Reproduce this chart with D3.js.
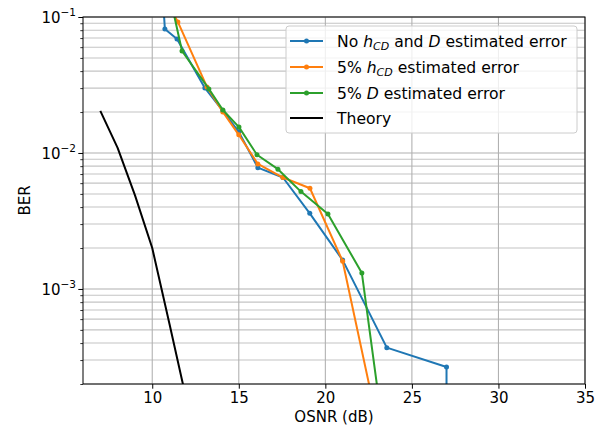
<!DOCTYPE html>
<html><head><meta charset="utf-8">
<script src="https://cdn.jsdelivr.net/npm/d3@7"></script>
<style>body{margin:0;background:#fff}text{font-family:"DejaVu Sans",sans-serif;fill:#000}</style>
</head><body><svg id="c" width="611" height="430"></svg>
<script>
// Data (OSNR in dB, BER)
const blueX  = [10.6, 10.73, 11.43, 13.04, 14.08, 15.0, 16.1, 17.55, 19.1, 21.0, 23.55, 27.0, 27.0];
const blueY  = [0.15, 0.0816, 0.0689, 0.0301, 0.0204, 0.0143, 0.0078, 0.0066, 0.0036, 0.00163, 0.00037, 0.000267, 1e-7];
const orangeX = [10.8, 11.48, 13.16, 14.08, 15.0, 16.1, 17.55, 19.11, 21.0, 23.0];
const orangeY = [0.133, 0.092, 0.0306, 0.0200, 0.0136, 0.0083, 0.0066, 0.0055, 0.00160, 0.000104];
const greenX = [10.8, 11.72, 13.27, 14.08, 15.01, 16.05, 17.26, 18.59, 20.15, 22.11, 23.2];
const greenY = [0.19, 0.0562, 0.0296, 0.0207, 0.0155, 0.0097, 0.0076, 0.0052, 0.00356, 0.00131, 0.000122];
const theoryX = [7, 8, 9, 10, 11, 12];
const theoryY = [0.0204, 0.0109, 0.0049, 0.0020, 0.00055, 0.000148];
const xTicks = [10, 15, 20, 25, 30, 35];
const yTicks = [1e-1, 1e-2, 1e-3];
const yTickExp = ["−1", "−2", "−3"];

const FS = "15px";
const svg = d3.select("#c");
const L = 83, R = 585, T = 17, B = 384;
const x = d3.scaleLinear().domain([6, 35]).range([L, R]);
const y = d3.scaleLog().domain([2e-4, 1e-1]).range([B, T]);

svg.append("rect").attr("width", 611).attr("height", 430).attr("fill", "#fff");

// minor y values
const minorY = [];
for (let e = -4; e <= -2; e++) for (let m = 2; m <= 9; m++) {
  const v = m * Math.pow(10, e);
  if (v >= 2e-4 && v <= 1e-1) minorY.push(v);
}
const grid = svg.append("g");
grid.selectAll(".gm").data(minorY).join("line")
  .attr("x1", L).attr("x2", R).attr("y1", d => y(d)).attr("y2", d => y(d))
  .attr("stroke", "#c4c4c4").attr("stroke-width", 1.07);
grid.selectAll(".gy").data(yTicks).join("line")
  .attr("x1", L).attr("x2", R).attr("y1", d => y(d)).attr("y2", d => y(d))
  .attr("stroke", "#b0b0b0").attr("stroke-width", 1.07);
grid.selectAll(".gx").data(xTicks).join("line")
  .attr("x1", d => x(d)).attr("x2", d => x(d)).attr("y1", T).attr("y2", B)
  .attr("stroke", "#b0b0b0").attr("stroke-width", 1.07);

// clip
svg.append("clipPath").attr("id", "clip").append("rect")
  .attr("x", L).attr("y", T).attr("width", R - L).attr("height", B - T);
const plot = svg.append("g").attr("clip-path", "url(#clip)");

const line = d3.line().x(d => x(d[0])).y(d => y(d[1]));
const series = [
  {xs: blueX, ys: blueY, color: "#1f77b4", marker: true},
  {xs: orangeX, ys: orangeY, color: "#ff7f0e", marker: true},
  {xs: greenX, ys: greenY, color: "#2ca02c", marker: true},
  {xs: theoryX, ys: theoryY, color: "#000000", marker: false}
];
series.forEach(s => {
  const pts = s.xs.map((v, i) => [v, s.ys[i]]);
  plot.append("path").attr("d", line(pts)).attr("fill", "none")
    .attr("stroke", s.color).attr("stroke-width", 2).attr("stroke-linejoin", "round");
  if (s.marker) {
    plot.selectAll(null).data(pts).join("circle")
      .attr("cx", d => x(d[0])).attr("cy", d => y(d[1])).attr("r", 2.5).attr("fill", s.color);
  }
});

// spines
svg.append("rect").attr("x", L).attr("y", T).attr("width", R - L).attr("height", B - T)
  .attr("fill", "none").attr("stroke", "#000").attr("stroke-width", 1);

// x axis
const xAxis = d3.axisBottom(x).tickValues(xTicks).tickSize(4.7).tickPadding(3.5).tickFormat(d3.format("d"));
const gx = svg.append("g").attr("transform", `translate(0,${B})`).call(xAxis);
gx.select(".domain").remove();
gx.selectAll("text").attr("font-size", FS).attr("font-family", "DejaVu Sans").attr("fill", "#000");
gx.selectAll("line").attr("stroke", "#000");

// y axis (major ticks + minor ticks)
const yAxis = d3.axisLeft(y).tickValues(yTicks).tickSize(4.7).tickFormat("");
const gy = svg.append("g").attr("transform", `translate(${L},0)`).call(yAxis);
gy.select(".domain").remove();
gy.selectAll("line").attr("stroke", "#000");
const yMinorAxis = d3.axisLeft(y).tickValues(minorY).tickSize(2.7).tickFormat("");
const gym = svg.append("g").attr("transform", `translate(${L},0)`).call(yMinorAxis);
gym.select(".domain").remove();
gym.selectAll("line").attr("stroke", "#000").attr("stroke-width", 0.8);

yTicks.forEach((v, i) => {
  const t = svg.append("text").attr("x", L - 7).attr("y", y(v) + 6)
    .attr("text-anchor", "end").attr("font-size", FS);
  t.append("tspan").text("10");
  t.append("tspan").attr("dy", -7).attr("font-size", "10.5px").text(yTickExp[i]);
});

// axis labels
svg.append("text").attr("x", (L + R) / 2).attr("y", 422).attr("text-anchor", "middle")
  .attr("font-size", FS).text("OSNR (dB)");
svg.append("text").attr("transform", `translate(30,${(T + B) / 2}) rotate(-90)`)
  .attr("text-anchor", "middle").attr("font-size", FS).text("BER");

// legend
const LFS = "15.6px";
const lg = svg.append("g");
lg.append("rect").attr("x", 286).attr("y", 26).attr("width", 291).attr("height", 107)
  .attr("rx", 3).attr("fill", "#fff").attr("fill-opacity", 0.8)
  .attr("stroke", "#cccccc").attr("stroke-width", 1);
const rowsY = [41, 67, 93, 118];
series.forEach((s, i) => {
  lg.append("line").attr("x1", 290).attr("x2", 323).attr("y1", rowsY[i]).attr("y2", rowsY[i])
    .attr("stroke", s.color).attr("stroke-width", 2);
  if (s.marker) lg.append("circle").attr("cx", 306.5).attr("cy", rowsY[i]).attr("r", 2.5).attr("fill", s.color);
});
function legText(i, parts) {
  const t = lg.append("text").attr("x", 337).attr("y", rowsY[i] + 5.5).attr("font-size", LFS);
  parts.forEach(p => {
    const sp = t.append("tspan").text(p.t);
    if (p.it) sp.attr("font-style", "italic");
    if (p.sub) { sp.attr("font-size", "11px").attr("dy", 3.5); }
    if (p.up) sp.attr("dy", -3.5);
  });
}
legText(0, [{t: "No "}, {t: "h", it: true}, {t: "CD", it: true, sub: true}, {t: " and ", up: true}, {t: "D", it: true}, {t: " estimated error"}]);
legText(1, [{t: "5% "}, {t: "h", it: true}, {t: "CD", it: true, sub: true}, {t: " estimated error", up: true}]);
legText(2, [{t: "5% "}, {t: "D", it: true}, {t: " estimated error"}]);
legText(3, [{t: "Theory"}]);
</script></body></html>
